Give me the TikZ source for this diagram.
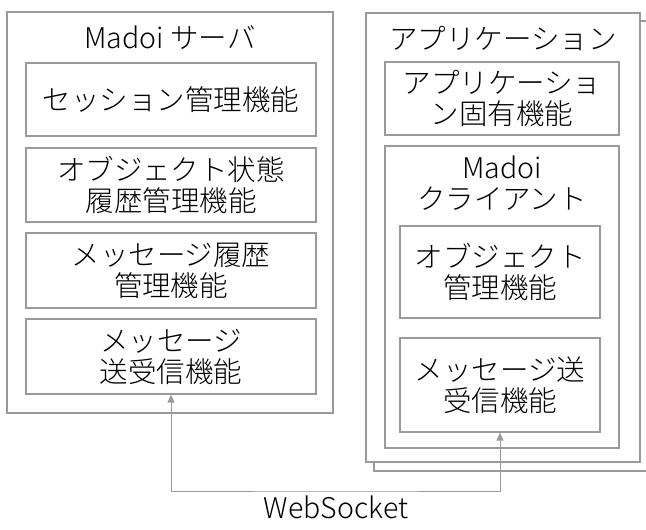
\documentclass[tikz,border=0pt]{standalone}
\usepackage{fontspec}
\setmainfont{Noto Sans CJK JP}[UprightFont=* Light]
\usetikzlibrary{arrows.meta}
\definecolor{linegray}{HTML}{9A9A9A}
\begin{document}
\begin{tikzpicture}[x=1pt,y=-1pt]
\tikzstyle{frame}=[draw=linegray,line width=1.2pt,fill=white,inner sep=0pt]
\tikzstyle{box}=[frame,align=center,font=\fontsize{28.5}{31}\selectfont]
\tikzstyle{lbl}=[align=center,inner sep=0pt,font=\fontsize{28.5}{31}\selectfont]
\tikzstyle{link}=[draw=linegray,line width=1pt,{Triangle[length=8pt,width=7pt]}-{Triangle[length=8pt,width=7pt]}]
\useasboundingbox (0,0) rectangle (646,530);
% server side
\node[frame,minimum width=326pt,minimum height=401pt] (server) at (170,212.5) {};
\node[lbl] (servertitle) at (170,38) {Madoi サーバ};
\node[box,minimum width=290pt,minimum height=73pt] (sess) at (171,99.5) {セッション管理機能};
\node[box,minimum width=290pt,minimum height=74pt] (objhist) at (171,185) {オブジェクト状態\\履歴管理機能};
\node[box,minimum width=290pt,minimum height=75pt] (msghist) at (171,270.5) {メッセージ履歴\\管理機能};
\node[box,minimum width=290pt,minimum height=75pt] (msgsrv) at (171,356.5) {メッセージ\\送受信機能};
% application side, stacked
\node[frame,minimum width=274pt,minimum height=450pt] (appback) at (511,246) {};
\node[frame,minimum width=274pt,minimum height=449pt] (app) at (503,237.5) {};
\node[lbl] (apptitle) at (503,39) {アプリケーション};
\node[box,minimum width=234pt,minimum height=73pt] (appfunc) at (502,98.5) {アプリケーショ\\ン固有機能};
\node[frame,minimum width=234pt,minimum height=302pt] (client) at (502,297) {};
\node[lbl] (clienttitle) at (502,183) {Madoi\\クライアント};
\node[box,minimum width=200pt,minimum height=92pt] (objmgr) at (500,272) {オブジェクト\\管理機能};
\node[box,minimum width=200pt,minimum height=94pt] (msgcli) at (500,385) {メッセージ送\\受信機能};
% websocket link
\coordinate (bus) at (336,491);
\node[lbl] (ws) at (336,507) {WebSocket};
\draw[link] (msgsrv.south) |- (bus) -| (msgcli.south);
\end{tikzpicture}
\end{document}
